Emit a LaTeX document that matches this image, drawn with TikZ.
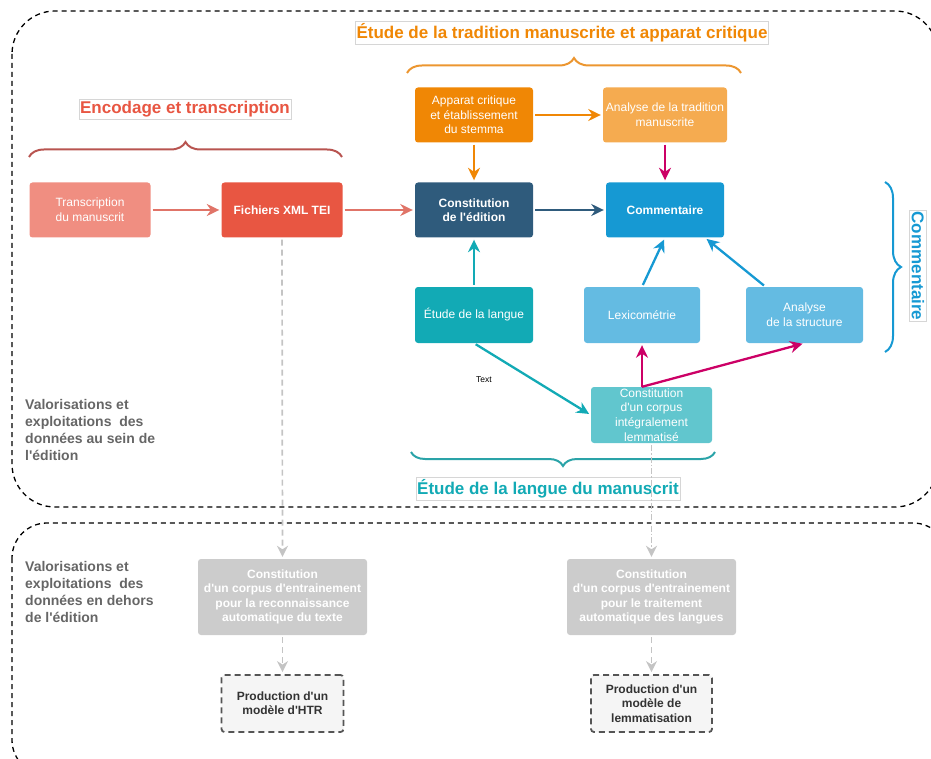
\documentclass[tikz,border=0pt]{standalone}
\usepackage{fontspec}
\newfontfamily\hv{Liberation Sans}
\usetikzlibrary{arrows.meta,decorations.pathreplacing}
\definecolor{cTrans}{HTML}{F08E81}
\definecolor{cXml}{HTML}{E85642}
\definecolor{cConst}{HTML}{2F5B7C}
\definecolor{cApp}{HTML}{F08705}
\definecolor{cAnal}{HTML}{F5AB50}
\definecolor{cComm}{HTML}{1699D3}
\definecolor{cLight}{HTML}{64BBE2}
\definecolor{cTeal}{HTML}{12AAB5}
\definecolor{cCorp}{HTML}{61C6CE}
\definecolor{cGrayBox}{HTML}{CCCCCC}
\definecolor{cRedArr}{HTML}{E07468}
\definecolor{cMag}{HTML}{CC0066}
\definecolor{cBraceRed}{HTML}{B85450}
\definecolor{cBraceOr}{HTML}{EC9630}
\definecolor{cBraceTeal}{HTML}{2AA3A8}
\definecolor{cGrayArr}{HTML}{C4C4C4}
\definecolor{cLeftTxt}{HTML}{666666}
\definecolor{cTitleBorder}{HTML}{D6D6D6}
\definecolor{cModelTxt}{HTML}{333333}
\definecolor{cModelBorder}{HTML}{555555}
\definecolor{cModelFill}{HTML}{F5F5F5}
\newcommand\boxrgfont{\hv\fontsize{12}{14.6}\selectfont}
\newcommand\boxbffont{\hv\bfseries\fontsize{12}{14.4}\selectfont}
\newcommand\ttlfont{\hv\bfseries\fontsize{17}{20}\selectfont}
\newcommand\leftfont{\hv\bfseries\fontsize{14}{17}\selectfont}
\begin{document}
\begin{tikzpicture}[x=1pt,y=-1pt,
  outer/.style={draw=black, line width=1.3pt, dash pattern=on 5pt off 4pt},
  box/.style={rounded corners=3pt, text=white, align=center, inner sep=2pt, font=\boxrgfont},
  boxb/.style={box, font=\boxbffont},
  model/.style={rounded corners=3pt, draw=cModelBorder, line width=1.8pt, dash pattern=on 6pt off 4pt, fill=cModelFill, text=cModelTxt, align=center, font=\boxbffont},
  arr/.style={-{Stealth[length=12.5pt,width=12pt,inset=4pt]}, line width=2.3pt, shorten <=2pt, shorten >=2pt},
  garr/.style={-{Stealth[length=11pt,width=11pt,inset=3.5pt]}, draw=cGrayArr, line width=1.7pt, dash pattern=on 6pt off 4pt, shorten <=2pt, shorten >=2pt},
  bracepath/.style={decorate, line width=2pt},
  ttl/.style={draw=cTitleBorder, fill=white, line width=0.6pt, inner xsep=1pt, inner ysep=2pt, font=\ttlfont},
  lefttxt/.style={anchor=north west, align=left, inner sep=0pt, text=cLeftTxt, font=\leftfont}
]
\useasboundingbox (0,0) rectangle (931,759);
\clip (0,0) rectangle (931,759);

% outer dashed areas
\draw[outer, rounded corners=43pt] (12,11) rectangle (938,507);
\draw[outer, rounded corners=35pt] (12,523) rectangle (948,775);

% boxes
\node[box, fill=cTrans, minimum width=121pt, minimum height=55pt] (trans) at (90,210) {Transcription\\du manuscrit};
\node[boxb, fill=cXml, minimum width=121pt, minimum height=55pt] (xml) at (282,210) {Fichiers XML TEI};
\node[boxb, fill=cConst, minimum width=118pt, minimum height=55pt] (const) at (474,210) {Constitution\\de l'édition};
\node[box, fill=cApp, minimum width=118pt, minimum height=55pt] (app) at (474,115) {Apparat critique\\et établissement\\du stemma};
\node[box, fill=cAnal, minimum width=124pt, minimum height=55pt] (anal) at (665,115) {Analyse de la tradition\\manuscrite};
\node[boxb, fill=cComm, minimum width=118pt, minimum height=55pt] (comm) at (665,210) {Commentaire};
\node[box, fill=cTeal, minimum width=118pt, minimum height=56pt] (langue) at (474,315) {Étude de la langue};
\node[box, fill=cLight, minimum width=116pt, minimum height=56pt] (lexi) at (642,315) {Lexicométrie};
\node[box, fill=cLight, minimum width=117pt, minimum height=56pt] (struct) at (804.5,315) {Analyse\\de la structure};
\node[box, fill=cCorp, minimum width=121pt, minimum height=56pt, inner sep=0pt] (corpus) at (651.5,415) {Constitution\\d'un corpus\\intégralement\\lemmatisé};
\node[boxb, fill=cGrayBox, minimum width=169pt, minimum height=76pt] (htrc) at (282.5,597) {Constitution\\d'un corpus d'entrainement\\pour la reconnaissance\\automatique du texte};
\node[model, minimum width=122pt, minimum height=57pt] (htrm) at (282.5,703.5) {Production d'un\\modèle d'HTR};
\node[boxb, fill=cGrayBox, minimum width=169pt, minimum height=76pt] (talc) at (651.5,597) {Constitution\\d'un corpus d'entrainement\\pour le traitement\\automatique des langues};
\node[model, minimum width=121pt, minimum height=57pt] (lemm) at (651.5,703.5) {Production d'un\\modèle de\\lemmatisation};

% titles
\node[ttl, text=cXml] (tenc) at (185,109) {Encodage et transcription};
\node[ttl, text=cApp] (ttrad) at (562,33) {Étude de la tradition manuscrite et apparat critique};
\node[ttl, text=cTeal] (tlang) at (548,489) {Étude de la langue du manuscrit};
\node[ttl, text=cComm, rotate=-90] (tcomm) at (918,266) {Commentaire};

% braces
\draw[bracepath, cBraceRed, decoration={brace, amplitude=15pt}] (29,157) -- (342,157);
\draw[bracepath, cBraceOr, decoration={brace, amplitude=15pt}] (407,73) -- (741,73);
\draw[bracepath, cComm, decoration={brace, amplitude=16pt}] (885,182) -- (885,352);
\draw[bracepath, cBraceTeal, decoration={brace, amplitude=14pt}] (715,452) -- (411,452);

% left texts
\node[lefttxt] (lt1) at (25,399) {Valorisations et\\exploitations\ \ des\\données au sein de\\l'édition};
\node[lefttxt] (lt2) at (25,561) {Valorisations et\\exploitations\ \ des\\données en dehors\\de l'édition};

% "Text" label
\node[font=\hv\fontsize{8.5}{10}\selectfont, text=black] (txt) at (484,380) {Text};

% arrows
\draw[arr, cRedArr] (trans) -- (xml);
\draw[arr, cRedArr] (xml) -- (const);
\draw[arr, cApp] (app) -- (const);
\draw[arr, cApp] (app) -- (anal);
\draw[arr, cMag] (anal) -- (comm);
\draw[arr, cConst] (const) -- (comm);
\draw[arr, cTeal] (langue) -- (const);
\draw[arr, cComm] (lexi.north) -- (comm.south);
\draw[arr, cComm] ([xshift=-39pt]struct.north) -- ([xshift=40pt]comm.south);
\draw[arr, cTeal] (langue.south) -- (corpus.west);
\coordinate (cs) at ([xshift=-9.5pt]corpus.north);
\draw[arr, cMag, shorten <=0pt] (cs) -- (lexi.south);
\draw[arr, cMag, shorten <=0pt] (cs) -- (struct.south);

% gray dashed arrows
\draw[garr] (xml.south) -- (htrc.north);
\draw[garr] (htrc.south) -- (htrm.north);
\draw[garr, dash pattern=on 6pt off 2pt on 1.5pt off 2pt] (corpus.south) -- (talc.north);
\draw[garr] (talc.south) -- (lemm.north);
\end{tikzpicture}
\end{document}
